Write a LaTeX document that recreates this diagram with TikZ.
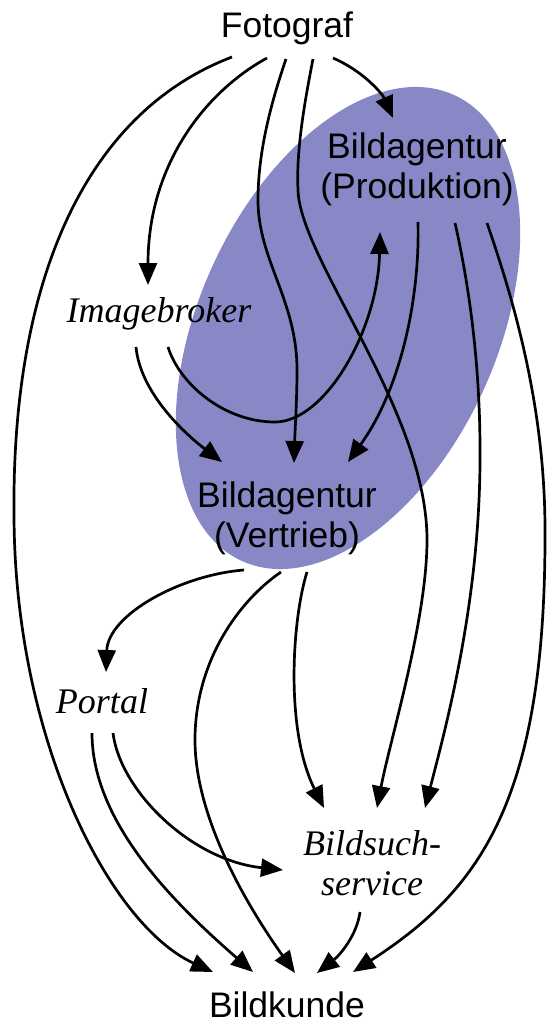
\documentclass[tikz,border=0pt]{standalone}
\usepackage{fontspec}
\setmainfont{Liberation Serif}
\newfontfamily\arialf{Liberation Sans}
\usetikzlibrary{calc,arrows.meta}
\definecolor{ellblue}{RGB}{136,136,198}
\begin{document}
\begin{tikzpicture}[x=1pt,y=-1pt,
  sanslbl/.style={inner sep=0pt, anchor=base, font=\arialf\fontsize{35.5}{40}\selectfont, align=center},
  itlbl/.style={inner sep=0pt, anchor=base, font=\fontsize{36}{40}\selectfont\itshape, align=center},
  arr/.style={line width=2.7pt, -{Triangle[length=22pt,width=18pt]}}]
\useasboundingbox (0,0) rectangle (547,1023);
\fill[white] (0,0) rectangle (547,1023);
% shaded agency area
\fill[ellblue, rotate around={65.5:(348,328)}] (348,328) ellipse (256pt and 149pt);
% nodes (multi-line nodes: base = baseline of last line)
\node[sanslbl] (foto) at (287,37) {Fotograf};
\node[sanslbl] (prod) at (417,198) {Bildagentur\\(Produktion)};
\node[itlbl] (img) at (159,322) {Imagebroker};
\node[sanslbl] (vert) at (287,547) {Bildagentur\\(Vertrieb)};
\node[itlbl] (portal) at (102,713) {Portal};
\node[itlbl] (such) at (372,895) {Bildsuch-\\service};
\node[sanslbl] (kunde) at (287,1017) {Bildkunde};
% connectors
\draw[arr] ($(foto.base)+(-55,20)$) .. controls (80,115) and (12,290) .. (14,513) .. controls (14,740) and (110,925) .. ($(kunde.base)+(-74,-45)$);
\draw[arr] ($(foto.base)+(-20,21)$) .. controls (205,92) and (148,165) .. ($(img.base)+(-11,-37)$);
\draw[arr] ($(foto.base)+(-1,22)$) .. controls (272,100) and (258,150) .. (258,200) .. controls (258,260) and (297,300) .. (297,370) .. controls (297,400) and (295,430) .. ($(vert.base)+(7,-84)$);
\draw[arr] ($(foto.base)+(26,22)$) .. controls (305,100) and (296,150) .. (298,190) .. controls (300,260) and (427,410) .. (427,540) .. controls (427,620) and (390,740) .. ($(such.base)+(5,-87)$);
\draw[arr] ($(foto.base)+(46,21)$) .. controls (365,72) and (383,95) .. ($(prod.base)+(-24,-80)$);
\draw[arr] ($(img.base)+(-23,25)$) .. controls (140,390) and (180,430) .. ($(vert.base)+(-65,-85)$);
\draw[arr] ($(img.base)+(9,25)$) .. controls (180,385) and (225,422) .. (275,422) .. controls (325,422) and (378,330) .. ($(prod.base)+(-37,34)$);
\draw[arr] ($(prod.base)+(1,24)$) .. controls (420,300) and (400,390) .. ($(vert.base)+(61,-85)$);
\draw[arr] ($(prod.base)+(38,25)$) .. controls (468,280) and (480,360) .. (480,450) .. controls (481,600) and (445,730) .. ($(such.base)+(53,-87)$);
\draw[arr] ($(prod.base)+(70,25)$) .. controls (510,290) and (545,400) .. (545,530) .. controls (546,800) and (480,890) .. ($(kunde.base)+(66,-45)$);
\draw[arr] ($(vert.base)+(-43,23)$) .. controls (180,575) and (108,615) .. ($(portal.base)+(4,-41)$);
\draw[arr] ($(vert.base)+(-6,25)$) .. controls (240,600) and (195,660) .. (195,740) .. controls (195,820) and (250,910) .. ($(kunde.base)+(8,-44)$);
\draw[arr] ($(vert.base)+(20,25)$) .. controls (292,620) and (285,730) .. ($(such.base)+(-48,-87)$);
\draw[arr] ($(portal.base)+(-10,20)$) .. controls (92,820) and (170,900) .. ($(kunde.base)+(-34,-45)$);
\draw[arr] ($(portal.base)+(11,20)$) .. controls (120,790) and (190,860) .. ($(such.base)+(-89,-25)$);
\draw[arr] ($(such.base)+(-12,17)$) .. controls (357,935) and (340,955) .. ($(kunde.base)+(30,-44)$);
\end{tikzpicture}
\end{document}
